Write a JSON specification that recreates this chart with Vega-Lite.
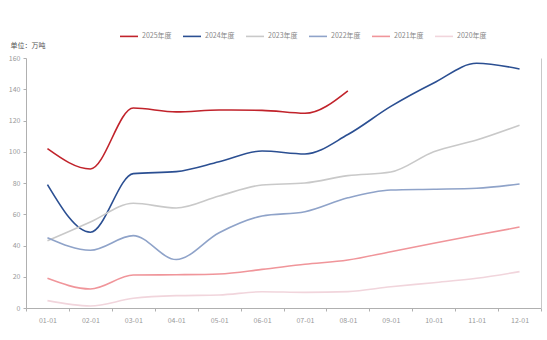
{
  "$schema": "https://vega.github.io/schema/vega-lite/v6.json",
  "autosize": {"type": "none"},
  "width": 515,
  "height": 250,
  "padding": {"left": 26, "top": 58, "right": 6, "bottom": 32},
  "background": "white",
  "config": {
    "view": {"stroke": null},
    "font": "Noto Sans CJK SC",
    "axis": {
      "labelFont": "Noto Sans CJK SC",
      "labelFontSize": 7,
      "labelColor": "#999999",
      "domainColor": "#b0b0b0",
      "tickColor": "#b0b0b0",
      "tickSize": 3,
      "grid": false
    }
  },
  "data": {
    "values": [
      {"year": "2025年度", "date": "01-01", "value": 102},
      {"year": "2025年度", "date": "02-01", "value": 89},
      {"year": "2025年度", "date": "03-01", "value": 128},
      {"year": "2025年度", "date": "04-01", "value": 125.5},
      {"year": "2025年度", "date": "05-01", "value": 126.7},
      {"year": "2025年度", "date": "06-01", "value": 126.5},
      {"year": "2025年度", "date": "07-01", "value": 124.6},
      {"year": "2025年度", "date": "08-01", "value": 139},

      {"year": "2024年度", "date": "01-01", "value": 79},
      {"year": "2024年度", "date": "02-01", "value": 48.5},
      {"year": "2024年度", "date": "03-01", "value": 86},
      {"year": "2024年度", "date": "04-01", "value": 87.3},
      {"year": "2024年度", "date": "05-01", "value": 93.6},
      {"year": "2024年度", "date": "06-01", "value": 100.5},
      {"year": "2024年度", "date": "07-01", "value": 98.6},
      {"year": "2024年度", "date": "08-01", "value": 111},
      {"year": "2024年度", "date": "09-01", "value": 129},
      {"year": "2024年度", "date": "10-01", "value": 144},
      {"year": "2024年度", "date": "11-01", "value": 156.6},
      {"year": "2024年度", "date": "12-01", "value": 153},

      {"year": "2023年度", "date": "01-01", "value": 43},
      {"year": "2023年度", "date": "02-01", "value": 55},
      {"year": "2023年度", "date": "03-01", "value": 67},
      {"year": "2023年度", "date": "04-01", "value": 64},
      {"year": "2023年度", "date": "05-01", "value": 71.7},
      {"year": "2023年度", "date": "06-01", "value": 78.7},
      {"year": "2023年度", "date": "07-01", "value": 80},
      {"year": "2023年度", "date": "08-01", "value": 84.7},
      {"year": "2023年度", "date": "09-01", "value": 87},
      {"year": "2023年度", "date": "10-01", "value": 100},
      {"year": "2023年度", "date": "11-01", "value": 107.5},
      {"year": "2023年度", "date": "12-01", "value": 117},

      {"year": "2022年度", "date": "01-01", "value": 45},
      {"year": "2022年度", "date": "02-01", "value": 37},
      {"year": "2022年度", "date": "03-01", "value": 46.3},
      {"year": "2022年度", "date": "04-01", "value": 31},
      {"year": "2022年度", "date": "05-01", "value": 48.2},
      {"year": "2022年度", "date": "06-01", "value": 58.9},
      {"year": "2022年度", "date": "07-01", "value": 61.6},
      {"year": "2022年度", "date": "08-01", "value": 70.5},
      {"year": "2022年度", "date": "09-01", "value": 75.5},
      {"year": "2022年度", "date": "10-01", "value": 76},
      {"year": "2022年度", "date": "11-01", "value": 76.6},
      {"year": "2022年度", "date": "12-01", "value": 79.4},

      {"year": "2021年度", "date": "01-01", "value": 19},
      {"year": "2021年度", "date": "02-01", "value": 12.2},
      {"year": "2021年度", "date": "03-01", "value": 21.1},
      {"year": "2021年度", "date": "04-01", "value": 21.3},
      {"year": "2021年度", "date": "05-01", "value": 21.8},
      {"year": "2021年度", "date": "06-01", "value": 24.7},
      {"year": "2021年度", "date": "07-01", "value": 28},
      {"year": "2021年度", "date": "08-01", "value": 30.7},
      {"year": "2021年度", "date": "09-01", "value": 36},
      {"year": "2021年度", "date": "10-01", "value": 41.4},
      {"year": "2021年度", "date": "11-01", "value": 46.7},
      {"year": "2021年度", "date": "12-01", "value": 51.8},

      {"year": "2020年度", "date": "01-01", "value": 4.7},
      {"year": "2020年度", "date": "02-01", "value": 1.3},
      {"year": "2020年度", "date": "03-01", "value": 6.2},
      {"year": "2020年度", "date": "04-01", "value": 7.9},
      {"year": "2020年度", "date": "05-01", "value": 8.3},
      {"year": "2020年度", "date": "06-01", "value": 10.4},
      {"year": "2020年度", "date": "07-01", "value": 10},
      {"year": "2020年度", "date": "08-01", "value": 10.5},
      {"year": "2020年度", "date": "09-01", "value": 13.6},
      {"year": "2020年度", "date": "10-01", "value": 16.2},
      {"year": "2020年度", "date": "11-01", "value": 19},
      {"year": "2020年度", "date": "12-01", "value": 23.3}
    ]
  },
  "layer": [
    {
      "mark": {"type": "line", "interpolate": "monotone"},
      "encoding": {
        "x": {
          "field": "date",
          "type": "ordinal",
          "scale": {"type": "band", "paddingInner": 0, "paddingOuter": 0},
          "bandPosition": 0.5,
          "axis": {"title": null, "labelAngle": 0, "tickBand": "extent", "labelPadding": 5}
        },
        "y": {
          "field": "value",
          "type": "quantitative",
          "scale": {"domain": [0, 160], "nice": false},
          "axis": {
            "values": [0, 20, 40, 60, 80, 100, 120, 140, 160],
            "title": "单位：万吨",
            "titleAngle": 0,
            "titleAlign": "left",
            "titleBaseline": "middle",
            "titleX": -16,
            "titleY": -13,
            "titleFontSize": 7,
            "titleFontWeight": "normal",
            "titleColor": "#555555",
            "labelPadding": 3
          }
        },
        "color": {
          "field": "year",
          "type": "nominal",
          "sort": ["2025年度", "2024年度", "2023年度", "2022年度", "2021年度", "2020年度"],
          "scale": {
            "domain": ["2025年度", "2024年度", "2023年度", "2022年度", "2021年度", "2020年度"],
            "range": ["#c1232b", "#2b4f92", "#c9c9c9", "#8fa3c9", "#f0959a", "#f1d5dc"]
          },
          "legend": {
            "orient": "none",
            "direction": "horizontal",
            "legendX": 93,
            "legendY": -32,
            "title": null,
            "symbolType": "stroke",
            "symbolSize": 324,
            "symbolStrokeWidth": 2.5,
            "labelFontSize": 7,
            "labelColor": "#888888",
            "labelOffset": 3,
            "columnPadding": 7
          }
        },
        "strokeWidth": {
          "field": "year",
          "type": "nominal",
          "scale": {
            "domain": ["2025年度", "2024年度", "2023年度", "2022年度", "2021年度", "2020年度"],
            "range": [1.6, 1.6, 1.4, 1.4, 1.2, 1.2]
          },
          "legend": null
        },
        "order": {"field": "date"}
      }
    },
    {
      "mark": {"type": "rule", "opacity": 0},
      "encoding": {
        "y": {
          "field": "value",
          "type": "quantitative",
          "scale": {"domain": [0, 160], "nice": false},
          "axis": {"orient": "right", "labels": false, "ticks": false, "title": null, "domainColor": "#c8c8c8"}
        }
      }
    }
  ],
  "resolve": {"axis": {"y": "independent"}}
}
